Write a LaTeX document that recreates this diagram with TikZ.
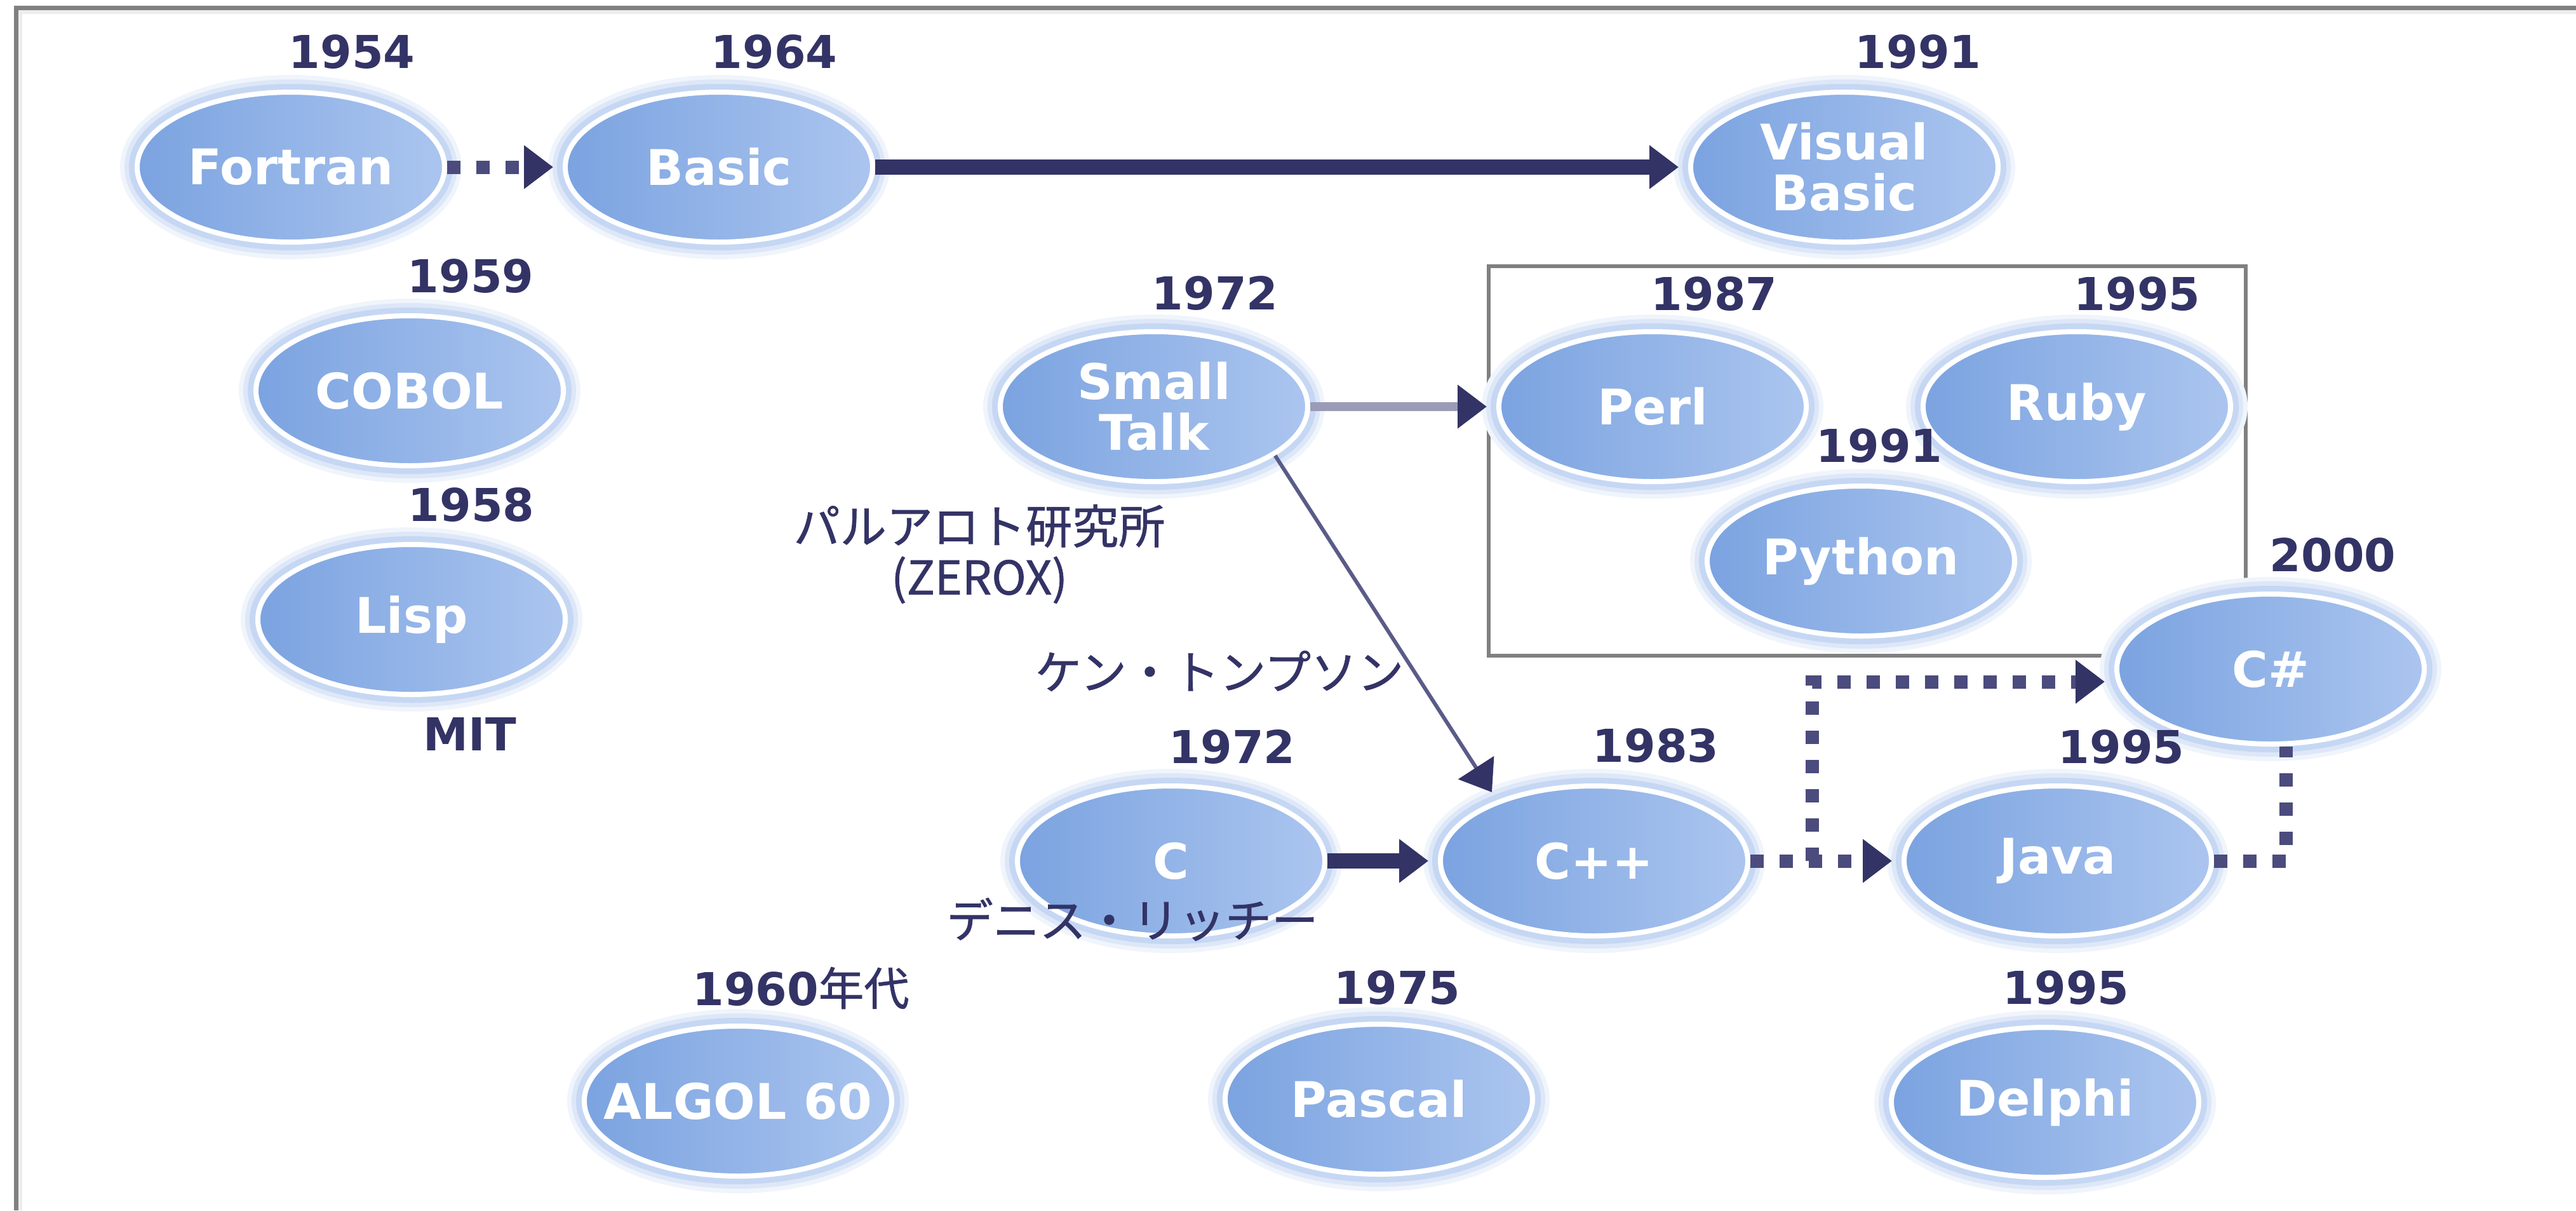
\documentclass[tikz,border=0pt]{standalone}
\usepackage{fontspec}
\usetikzlibrary{arrows.meta,shapes.geometric}
\newfontfamily\verdana{DejaVu Sans}
\newfontfamily\jfont[FakeBold=1]{Noto Sans CJK JP}
\definecolor{ink}{HTML}{333366}
\definecolor{dots}{HTML}{4B4B7D}
\definecolor{pale}{HTML}{9B9BB8}
\definecolor{slimlink}{HTML}{5B5B88}
\definecolor{fillL}{HTML}{7BA3E0}
\definecolor{fillR}{HTML}{ABC5EF}
\definecolor{glowA}{HTML}{C5D7F3}
\definecolor{glowB}{HTML}{DDE7F8}
\definecolor{glowC}{HTML}{F0F5FC}
\definecolor{framegray}{HTML}{808080}
\definecolor{framelite}{HTML}{EDEDED}

\begin{document}
\begin{tikzpicture}
\tikzstyle{every node}+=[inner sep=0pt]
\tikzstyle{lang}=[ellipse, minimum width=4.84cm, minimum height=2.36cm, inner sep=-2cm, outer sep=0.04cm,
  draw=white, line width=0.08cm, left color=fillL, right color=fillR, text=white, align=center,
  font=\verdana\bfseries\fontsize{22}{22.8}\selectfont,
  preaction={draw=glowC, line width=0.54cm},
  preaction={draw=glowB, line width=0.40cm},
  preaction={draw=glowA, line width=0.26cm}]
\tikzstyle{year}=[text=ink, font=\verdana\bfseries\fontsize{20.3}{24}\selectfont]
\tikzstyle{note}=[text=ink, font=\jfont\fontsize{20.8}{22.8}\selectfont, align=center]
\tikzstyle{head}=[-{Triangle[length=0.46cm,width=0.66cm,color=ink]}, shorten >=0.15cm]
\tikzstyle{heavy}=[ink, line width=0.24cm, head]
\tikzstyle{dotlink}=[dots, line width=0.21cm, dash pattern=on 0.21cm off 0.25cm]
\useasboundingbox (0,0) rectangle (40.56,-19.05);
% frame
\draw [framelite, line width=0.06cm] (0.32,-19.05) -- (0.32,-0.19) -- (40.56,-0.19);
\draw [framegray, line width=0.07cm] (0.255,-19.05) -- (0.255,-0.125) -- (40.56,-0.125);
\draw [framegray, line width=0.055cm] (23.44,-4.19) rectangle (35.36,-10.32);
% languages
\node [lang] (fortran) at (4.58,-2.63) {Fortran};
\node [lang] (basic) at (11.32,-2.63) {Basic};
\node [lang] (vbasic) at (29.04,-2.63) {Visual\\Basic};
\node [lang] (cobol) at (6.45,-6.15) {COBOL};
\node [lang] (lisp) at (6.48,-9.75) {Lisp};
\node [lang] (smalltalk) at (18.17,-6.40) {Small\\Talk};
\node [lang] (perl) at (26.02,-6.40) {Perl};
\node [lang] (ruby) at (32.70,-6.40) {Ruby};
\node [lang] (python) at (29.30,-8.83) {Python};
\node [lang] (csharp) at (35.75,-10.53) {C\#};
\node [lang] (c) at (18.44,-13.55) {C};
\node [lang] (cpp) at (25.10,-13.55) {C++};
\node [lang] (java) at (32.40,-13.55) {Java};
\node [lang] (algol) at (11.62,-17.33) {ALGOL 60};
\node [lang] (pascal) at (21.71,-17.30) {Pascal};
\node [lang] (delphi) at (32.20,-17.35) {Delphi};
% years
\node [year] (fortranyr) at (5.54,-0.82) {1954};
\node [year] (basicyr) at (12.19,-0.82) {1964};
\node [year] (vbasicyr) at (30.20,-0.82) {1991};
\node [year] (cobolyr) at (7.41,-4.35) {1959};
\node [year] (lispyr) at (7.42,-7.95) {1958};
\node [year] (smalltalkyr) at (19.13,-4.62) {1972};
\node [year] (perlyr) at (26.99,-4.63) {1987};
\node [year] (rubyyr) at (33.65,-4.63) {1995};
\node [year] (pythonyr) at (29.59,-7.02) {1991};
\node [year] (csharpyr) at (36.73,-8.74) {2000};
\node [year] (cyr) at (19.40,-11.76) {1972};
\node [year] (cppyr) at (26.07,-11.74) {1983};
\node [year] (javayr) at (33.40,-11.76) {1995};
\node [year] (algolyr) at (12.61,-15.55) {1960{\jfont\mdseries 年代}};
\node [year] (pascalyr) at (22.00,-15.55) {1975};
\node [year] (delphiyr) at (32.53,-15.55) {1995};
\node [year] (mit) at (7.40,-11.55) {MIT};
% people and places
\node [note] (parc) at (15.42,-8.72) {パルアロト研究所\\(ZEROX)};
\node [note] (ken) at (19.20,-10.56) {ケン・トンプソン};
\node [note] (dennis) at (17.83,-14.47) {デニス・リッチー};
% links
\draw [dotlink, head] (fortran) -- (basic);
\draw [heavy] (basic) -- (vbasic);
\draw [pale, line width=0.14cm, head] (smalltalk) -- (perl);
\draw [slimlink, line width=0.06cm, head] (smalltalk.-22) -- (cpp.148);
\draw [heavy] (c) -- (cpp);
\draw [dotlink, head] (cpp) -- (java);
\coordinate (fork) at (28.53,-13.55);
\draw [dotlink, head] (fork) |- ([yshift=-0.2cm]csharp.west);
\draw [dotlink] (java) -| ([xshift=0.24cm]csharp.south);
\end{tikzpicture}
\end{document}
